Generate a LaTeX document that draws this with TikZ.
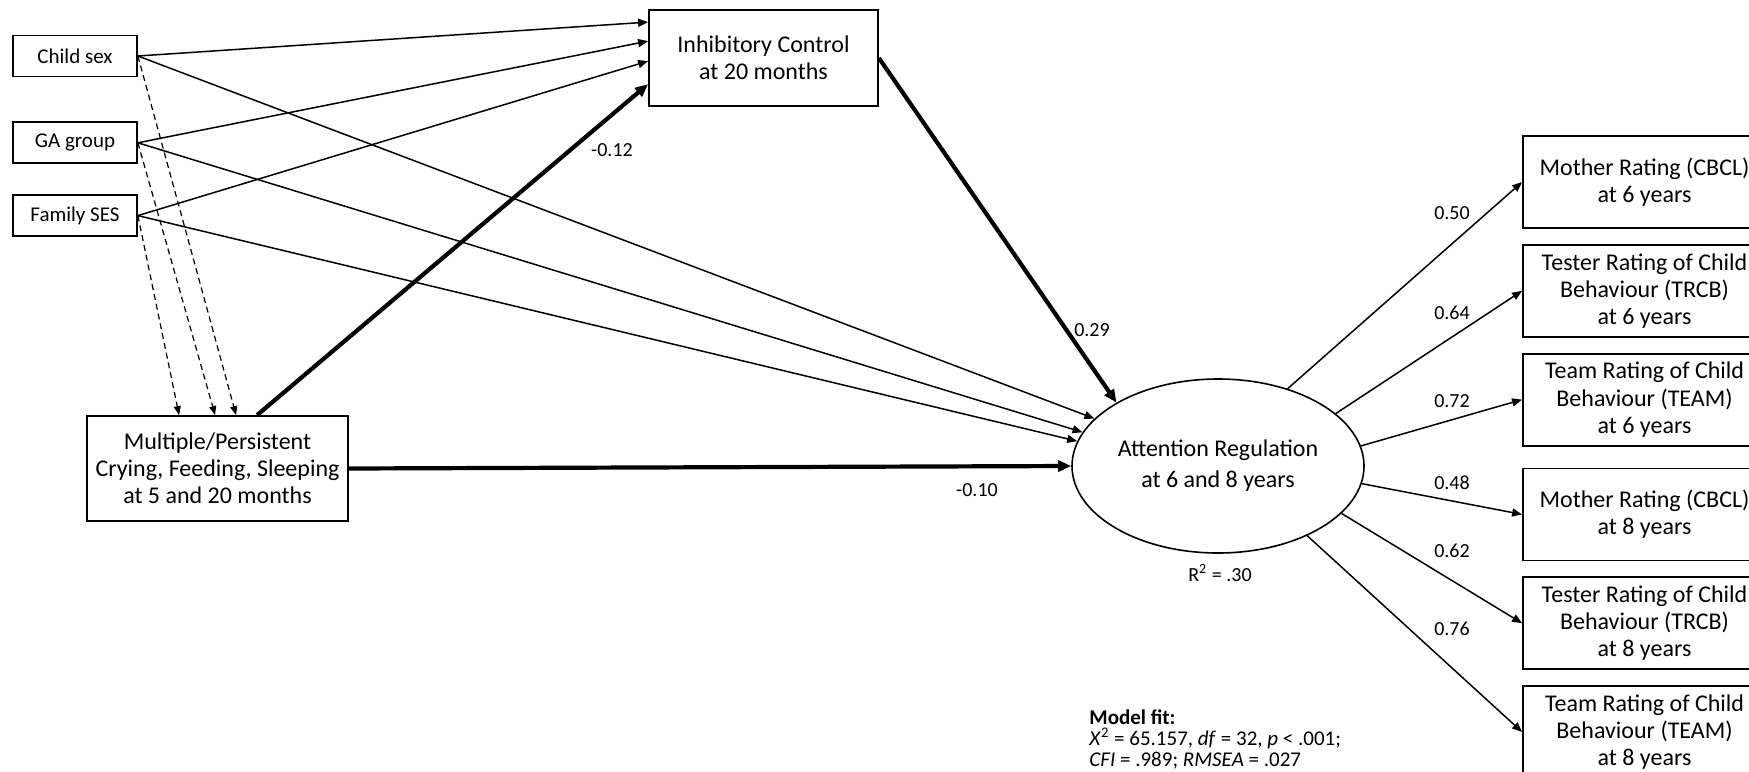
\documentclass[tikz,border=0pt]{standalone}
\usepackage{fontspec}
\setmainfont{Carlito}
\usepackage{tikz}
\usetikzlibrary{positioning, arrows.meta, shapes.geometric, calc}
\tikzset{
  varbox/.style = {rectangle, draw=black, line width=0.9pt, fill=white,
                   minimum width=121.5pt, minimum height=46pt, inner sep=2pt,
                   align=center, font=\fontsize{12}{13.6}\selectfont},
  covbox/.style = {rectangle, draw=black, line width=0.9pt, fill=white,
                   minimum width=62pt, minimum height=20.5pt, inner sep=1pt,
                   font=\fontsize{10.5}{12}\selectfont},
  latent/.style = {ellipse, draw=black, line width=0.8pt, fill=white,
                   minimum width=146pt, minimum height=87pt, inner sep=0pt,
                   align=center, font=\fontsize{12}{15.5}\selectfont},
  coef/.style = {inner sep=0pt, font=\fontsize{10}{12}\selectfont},
  fitline/.style = {inner sep=0pt, anchor=base west, font=\fontsize{10.5}{12}\selectfont},
  patharrow/.style = {-{Triangle[length=5pt, width=4pt]}, line width=0.75pt},
  strongpath/.style = {-{Triangle[length=6.5pt, width=5.5pt]}, line width=2.1pt},
  covarrow/.style = {-{Triangle[length=4.5pt, width=3.5pt]}, line width=0.6pt,
                     dash pattern=on 3pt off 2pt}
}
\begin{document}
\begin{tikzpicture}[x=0.5pt, y=-0.5pt, every node/.style={font=\fontsize{12}{13.6}\selectfont}]
\useasboundingbox (0,0) rectangle (1749,771);
\clip (0,0) rectangle (1749,771);

\node[covbox] (childsex) at (75,56) {Child sex};
\node[covbox, below=22pt of childsex] (gagroup) {GA group};
\node[covbox, below=15pt of gagroup] (famses) {Family SES};

\node[varbox, minimum width=114.5pt, minimum height=48pt] (inhib) at (763.5,58) {Inhibitory Control\\at 20 months};
\node[varbox, minimum width=130.5pt, minimum height=52.5pt] (multi) at (217.5,468.5) {Multiple/Persistent\\Crying, Feeding, Sleeping\\at 5 and 20 months};
\node[latent] (attn) at (1218,466) {Attention Regulation\\at 6 and 8 years};

\node[varbox] (mother6) at (1644.5,182) {Mother Rating (CBCL)\\at 6 years};
\node[varbox, below=7.5pt of mother6] (tester6) {Tester Rating of Child\\Behaviour (TRCB)\\at 6 years};
\node[varbox, below=7.5pt of tester6] (team6) {Team Rating of Child\\Behaviour (TEAM)\\at 6 years};
\node[varbox, below=10.5pt of team6] (mother8) {Mother Rating (CBCL)\\at 8 years};
\node[varbox, below=7.5pt of mother8] (tester8) {Tester Rating of Child\\Behaviour (TRCB)\\at 8 years};
\node[varbox, below=7.5pt of tester8] (team8) {Team Rating of Child\\Behaviour (TEAM)\\at 8 years};

\coordinate (icA) at ($(inhib.north west)+(0,13)$);
\coordinate (icB) at ($(inhib.north west)+(0,32)$);
\coordinate (icC) at ($(inhib.north west)+(0,52)$);
\coordinate (icD) at ($(inhib.north west)+(0,75)$);
\coordinate (mpA) at ($(multi.north west)+(93,0)$);
\coordinate (mpB) at ($(multi.north west)+(129,0)$);
\coordinate (mpC) at ($(multi.north west)+(150,0)$);
\coordinate (mpS) at ($(multi.north west)+(171,0)$);

\draw[patharrow] (childsex.east) -- (icA);
\draw[patharrow] (gagroup.east) -- (icB);
\draw[patharrow] (famses.east) -- (icC);
\draw[patharrow] (childsex.east) -- (attn.159);
\draw[patharrow] (gagroup.east) -- (attn.166);
\draw[patharrow] (famses.east) -- (attn.170);

\draw[covarrow] (childsex.east) -- (mpC);
\draw[covarrow] (gagroup.east) -- (mpB);
\draw[covarrow] (famses.east) -- (mpA);

\draw[strongpath] (mpS) -- (icD);
\draw[strongpath] (inhib.east) -- (attn.148);
\draw[strongpath] (multi.east) -- (attn.west);

\draw[patharrow] (attn.48) -- (mother6.west);
\draw[patharrow] (attn.24) -- (tester6.west);
\draw[patharrow] (attn.8) -- (team6.west);
\draw[patharrow] (attn.-7) -- (mother8.west);
\draw[patharrow] (attn.-21) -- (tester8.west);
\draw[patharrow] (attn.-38) -- (team8.west);

\node[coef] (cMI) at (612,150) {-0.12};
\node[coef] (cIA) at (1092,330) {0.29};
\node[coef] (cMA) at (977,490) {-0.10};
\node[coef] (cM6) at (1452,213) {0.50};
\node[coef] (cT6) at (1452,313) {0.64};
\node[coef] (cE6) at (1452,401) {0.72};
\node[coef] (cM8) at (1452,483) {0.48};
\node[coef] (cT8) at (1452,551) {0.62};
\node[coef] (cE8) at (1452,629) {0.76};
\node[coef] (rsq) at (1220,573) {R\textsuperscript{2} = .30};

\node[fitline] (fitA) at (1089,724) {\textbf{Model fit:}};
\node[fitline] (fitB) at ($(fitA.base west)+(0,21)$) {\textit{X}\textsuperscript{2} = 65.157, \textit{df} = 32, \textit{p} < .001;};
\node[fitline] (fitC) at ($(fitB.base west)+(0,21)$) {\textit{CFI} = .989; \textit{RMSEA} = .027};
\end{tikzpicture}
\end{document}
